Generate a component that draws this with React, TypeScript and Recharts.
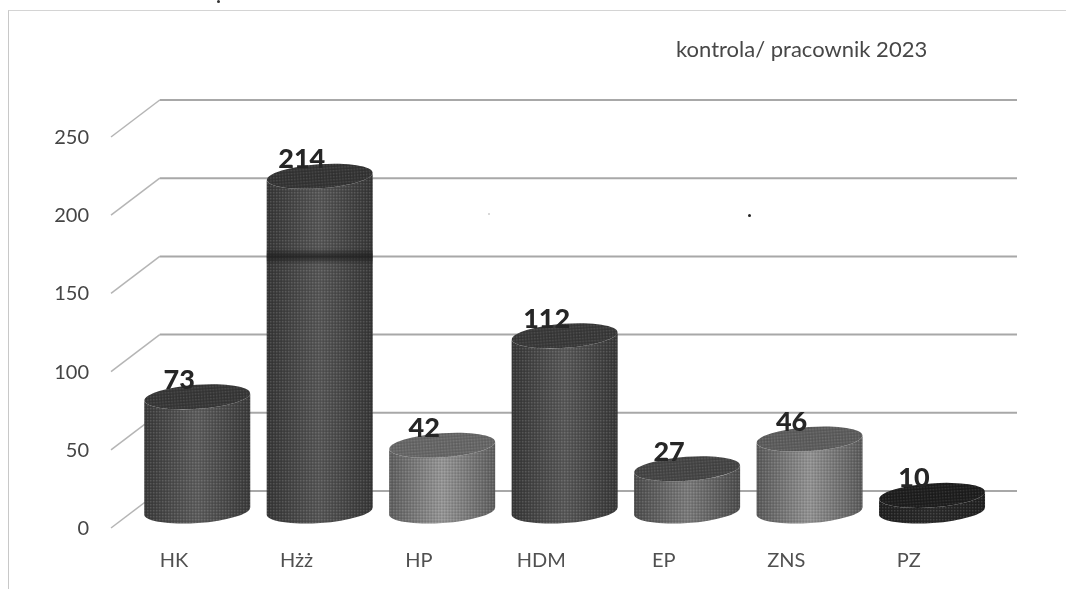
import React from "react";
import { ComposedChart, Bar, XAxis, YAxis, CartesianGrid, LabelList } from "recharts";

const categories = ["HK", "Hżż", "HP", "HDM", "EP", "ZNS", "PZ"];
const values = [73, 214, 42, 112, 27, 46, 10];
const yTicks = [0, 50, 100, 150, 200, 250];
const title = "kontrola/ pracownik 2023";
const edgeShades = ["#3a3a3a", "#363636", "#5e5e5e", "#373737", "#4c4c4c", "#5a5a5a", "#202020"];
const midShades = ["#5c5c5c", "#565656", "#959595", "#585858", "#7a7a7a", "#929292", "#2a2a2a"];
const topShades = ["#363636", "#333333", "#666666", "#383838", "#444444", "#5c5c5c", "#1c1c1c"];
const bandValue = [null, 150, null, null, null, null, null];

const data = categories.map((name, i) => ({ name, value: values[i] }));

const FONT = "Lato, 'Open Sans', sans-serif";
const BACK_DX = 47;
const BACK_DY = -37;
const BAR_DX = 23.5;
const BAR_DY = -17;
const RY = 12;
const TILT = 4;

function Cylinder(props: any) {
  const { x, y, width, height, index } = props;
  const rx = width / 2;
  const dy = rx * Math.sin((TILT * Math.PI) / 180);
  const xl = x + BAR_DX;
  const xr = xl + width;
  const top = y + BAR_DY;
  const bottom = top + height;
  const body = `M${xl},${top + dy} A${rx},${RY} ${-TILT} 0 0 ${xr},${top - dy} L${xr},${bottom - dy} A${rx},${RY} ${-TILT} 0 1 ${xl},${bottom + dy} Z`;
  const id = `cyl${index}`;
  const band = bandValue[index];
  const bandY = band == null ? 0 : bottom - (height / values[index]) * band - 20;
  return (
    <g>
      <defs>
        <linearGradient id={id} x1="0" y1="0" x2="1" y2="0">
          <stop offset="0" stopColor={edgeShades[index]} />
          <stop offset="0.5" stopColor={midShades[index]} />
          <stop offset="1" stopColor={edgeShades[index]} />
        </linearGradient>
        <linearGradient id={`band${index}`} x1="0" y1="0" x2="0" y2="1">
          <stop offset="0" stopColor="#1c1c1c" stopOpacity="0" />
          <stop offset="0.5" stopColor="#1c1c1c" stopOpacity="0.75" />
          <stop offset="1" stopColor="#1c1c1c" stopOpacity="0" />
        </linearGradient>
        <pattern id={`dots${index}`} width="3" height="3" patternUnits="userSpaceOnUse">
          <rect width="1.4" height="1.4" fill="#ffffff" fillOpacity="0.13" />
          <rect x="1.5" y="1.5" width="1.4" height="1.4" fill="#000000" fillOpacity="0.13" />
        </pattern>
      </defs>
      <path d={body} fill={`url(#${id})`} />
      <path d={body} fill={`url(#dots${index})`} />
      {band != null && (
        <rect x={xl} y={bandY - 8} width={width} height={16} fill={`url(#band${index})`} />
      )}
      <g transform={`rotate(${-TILT} ${xl + rx} ${top})`}>
        <ellipse cx={xl + rx} cy={top} rx={rx} ry={RY} fill={topShades[index]} />
        <ellipse cx={xl + rx} cy={top} rx={rx} ry={RY} fill={`url(#dots${index})`} />
      </g>
    </g>
  );
}

function renderValue(props: any) {
  const { x, y, width, value } = props;
  return (
    <text
      x={x + width / 2 + 5.5}
      y={y + BAR_DY - 8}
      textAnchor="middle"
      fontFamily={FONT}
      fontWeight={900}
      fontSize={27}
      fill="#262626"
    >
      {value}
    </text>
  );
}

function YTick(props: any) {
  const { y, payload } = props;
  return (
    <text x={89} y={y} dy={7} textAnchor="end" fontFamily={FONT} fontSize={20} fill="#454545">
      {payload.value}
    </text>
  );
}

function XTick(props: any) {
  const { x, payload } = props;
  return (
    <text x={x} y={567} textAnchor="middle" fontFamily={FONT} fontSize={20} fill="#505050">
      {payload.value}
    </text>
  );
}

function GridLine(props: any) {
  const { x1, x2, y1 } = props;
  const bx1 = x1 + BACK_DX;
  const bx2 = x2 + BACK_DX;
  const by = y1 + BACK_DY;
  return (
    <g>
      <line x1={111} y1={y1} x2={bx1} y2={by} stroke="#b5b5b5" strokeWidth={1.5} />
      <line x1={bx1} y1={by} x2={bx2} y2={by} stroke="#a8a8a8" strokeWidth={2} />
    </g>
  );
}

const dot = (left: number, top: number, size: number, color: string): React.CSSProperties => ({
  position: "absolute",
  left,
  top,
  width: size,
  height: size,
  borderRadius: "50%",
  background: color,
});

export default function App() {
  return (
    <div style={{ position: "absolute", left: 0, top: 0, width: 1066, height: 589, background: "#fff", overflow: "hidden", filter: "blur(0.45px)" }}>
      <div
        style={{
          position: "absolute",
          left: 8,
          top: 10,
          width: 1058,
          height: 579,
          borderTop: "1px solid #d4d4d4",
          borderLeft: "1px solid #c8c8c8",
          boxSizing: "border-box",
        }}
      />
      <div style={dot(217, 0, 3, "#333")} />
      <div style={dot(748, 214, 3, "#222")} />
      <div style={dot(488, 213, 2, "#ccc")} />
      <ComposedChart
        width={1066}
        height={589}
        data={data}
        margin={{ top: 137, right: 96, bottom: 0, left: 0 }}
        style={{ position: "absolute", left: 0, top: 0 }}
      >
        <CartesianGrid vertical={false} horizontal={GridLine as any} />
        <XAxis dataKey="name" height={61} axisLine={false} tickLine={false} tick={XTick as any} interval={0} />
        <YAxis width={112.75} domain={[0, 250]} ticks={yTicks} axisLine={false} tickLine={false} tick={YTick as any} />
        <Bar dataKey="value" barSize={106} shape={Cylinder as any} isAnimationActive={false}>
          <LabelList dataKey="value" content={renderValue as any} />
        </Bar>
      </ComposedChart>
      <div
        style={{
          position: "absolute",
          left: 676,
          top: 35,
          fontFamily: FONT,
          fontSize: 22,
          lineHeight: "28px",
          color: "#474747",
          whiteSpace: "nowrap",
        }}
      >
        {title}
      </div>
    </div>
  );
}
